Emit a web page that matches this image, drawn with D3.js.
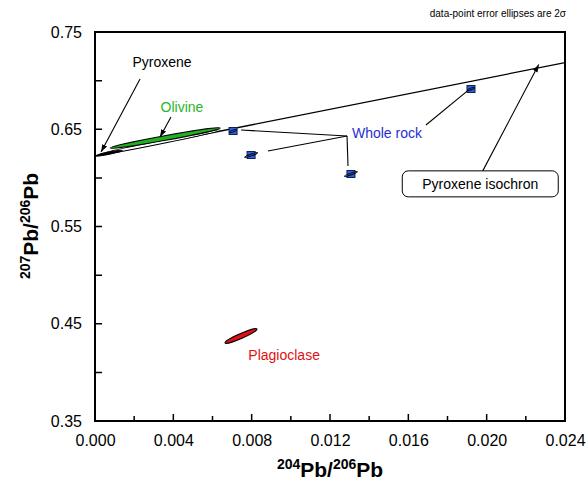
<!DOCTYPE html>
<html><head><meta charset="utf-8">
<script src="https://cdn.jsdelivr.net/npm/d3@7"></script>
<style>body{margin:0;background:#fff;} text{font-family:"Liberation Sans",Arial,sans-serif;}</style>
</head><body>
<svg id="c" width="586" height="485"></svg>
<script>
// ---------- data ----------
const xTicks = [0.000, 0.004, 0.008, 0.012, 0.016, 0.020, 0.024];
const xMinorTicks = [0.002, 0.006, 0.010, 0.014, 0.018, 0.022];
const yTicks = [0.35, 0.45, 0.55, 0.65, 0.75];
const yMinorTicks = [0.40, 0.50, 0.60, 0.70];

// whole-rock data points (204/206, 207/206) and 2σ error half-length in x
const wrX = [0.00705, 0.00797, 0.01307, 0.01920];
const wrY = [0.6482, 0.6235, 0.6040, 0.6914];
const wrErr = [0.00018, 0.00035, 0.00035, 0.00018];

// mineral error ellipses: long-axis end points
const olivineEnds = [[0.00077, 0.6307], [0.00640, 0.6513]];
const pyroxeneEnds = [[0.00020, 0.6238], [0.00640, 0.6492]];
const pyroxeneCoreEnds = [[0.00005, 0.6226], [0.00140, 0.6282]];
const plagioclaseEnds = [[0.00664, 0.4302], [0.00827, 0.4446]];

// pyroxene isochron: intercept and slope
const isoIntercept = 0.6225;
const isoSlope = 4.0;

// ---------- chart ----------
const svg = d3.select("#c");
const L = 95, R = 565, T = 32, B = 421;
const x = d3.scaleLinear().domain([0, 0.024]).range([L, R]);
const y = d3.scaleLinear().domain([0.35, 0.75]).range([B, T]);

const defs = svg.append("defs");
defs.append("marker").attr("id", "ah").attr("viewBox", "0 0 10 10")
  .attr("refX", 10).attr("refY", 5).attr("markerWidth", 7).attr("markerHeight", 7)
  .attr("orient", "auto-start-reverse")
  .append("path").attr("d", "M0,1.5 L10,5 L0,8.5 z").attr("fill", "#000");
defs.append("clipPath").attr("id", "plot").append("rect")
  .attr("x", L).attr("y", T).attr("width", R - L).attr("height", B - T);

// axes: labels via d3 axes
const fmtX = d3.format(".3f"), fmtY = d3.format(".2f");
const gx = svg.append("g").attr("transform", `translate(0,${B})`)
  .call(d3.axisBottom(x).tickValues(xTicks).tickSize(0).tickPadding(14).tickFormat(fmtX));
const gy = svg.append("g").attr("transform", `translate(${L},0)`)
  .call(d3.axisLeft(y).tickValues(yTicks).tickSize(0).tickPadding(13).tickFormat(fmtY));
[gx, gy].forEach(g => {
  g.select(".domain").remove();
  g.selectAll("text").attr("font-size", 16).attr("fill", "#000")
    .attr("font-family", "'Liberation Sans', Arial, sans-serif");
});

// isochron line
const plot = svg.append("g").attr("clip-path", "url(#plot)");
plot.append("line")
  .attr("x1", x(0)).attr("y1", y(isoIntercept))
  .attr("x2", x(0.024)).attr("y2", y(isoIntercept + isoSlope * 0.024))
  .attr("stroke", "#000").attr("stroke-width", 1.3);

function ellipse(ends, halfPx, fill, sw) {
  const [a, b] = ends;
  const x1 = x(a[0]), y1 = y(a[1]), x2 = x(b[0]), y2 = y(b[1]);
  const cx = (x1 + x2) / 2, cy = (y1 + y2) / 2;
  const rx = Math.hypot(x2 - x1, y2 - y1) / 2;
  const ang = Math.atan2(y2 - y1, x2 - x1) * 180 / Math.PI;
  plot.append("ellipse").attr("cx", 0).attr("cy", 0).attr("rx", rx).attr("ry", halfPx)
    .attr("transform", `translate(${cx},${cy}) rotate(${ang})`)
    .attr("fill", fill).attr("stroke", "#000").attr("stroke-width", sw);
}
ellipse(pyroxeneEnds, 1.6, "#fff", 1);
ellipse(olivineEnds, 2.4, "#22b022", 1);
ellipse(pyroxeneCoreEnds, 1.1, "#000", 1);
ellipse(plagioclaseEnds, 2.4, "#e01010", 1);

// whole rock points
const wr = d3.range(wrX.length).map(i => ({x: wrX[i], y: wrY[i], e: wrErr[i]}));
const wg = plot.selectAll("g.wr").data(wr).join("g").attr("class", "wr")
  .attr("transform", d => `translate(${x(d.x)},${y(d.y)})`);
wg.append("rect").attr("x", -4).attr("y", -3.5).attr("width", 8).attr("height", 7)
  .attr("fill", "#2f5fd8").attr("stroke", "#0c1f5c").attr("stroke-width", 1);
wg.append("ellipse").attr("rx", d => x(d.e) - x(0)).attr("ry", 0.9)
  .attr("transform", "rotate(-20)")
  .attr("fill", "none").attr("stroke", "#000").attr("stroke-width", 1);

// frame
svg.append("rect").attr("x", L).attr("y", T).attr("width", R - L).attr("height", B - T)
  .attr("fill", "none").attr("stroke", "#000").attr("stroke-width", 2);

// inward ticks (drawn as a single path)
let tp = "";
xTicks.slice(1, -1).forEach(d => { tp += `M${x(d)},${B}V${B - 7}`; });
xMinorTicks.forEach(d => { tp += `M${x(d)},${B}V${B - 5}`; });
yTicks.slice(1, -1).concat(yMinorTicks).forEach(d => { tp += `M${L},${y(d)}H${L + 7}`; });
svg.append("path").attr("d", tp).attr("fill", "none")
  .attr("stroke", "#000").attr("stroke-width", 1.5);

// ---------- annotations ----------
const ann = svg.append("g");
function arrow(p, q) {
  ann.append("line").attr("x1", x(p[0])).attr("y1", y(p[1])).attr("x2", x(q[0])).attr("y2", y(q[1]))
    .attr("stroke", "#000").attr("stroke-width", 1.1).attr("marker-end", "url(#ah)");
}
function seg(p, q) {
  ann.append("line").attr("x1", x(p[0])).attr("y1", y(p[1])).attr("x2", x(q[0])).attr("y2", y(q[1]))
    .attr("stroke", "#000").attr("stroke-width", 1.1);
}
function label(t, pos, color, anchor) {
  ann.append("text").attr("x", x(pos[0])).attr("y", y(pos[1])).attr("dy", "0.35em")
    .attr("text-anchor", anchor).attr("font-size", 14).attr("fill", color).text(t);
}
label("Pyroxene", [0.00342, 0.7191], "#000", "middle");
arrow([0.00230, 0.7017], [0.00031, 0.6266]);
label("Olivine", [0.00444, 0.6729], "#2ab52a", "middle");
arrow([0.00388, 0.6626], [0.00332, 0.6420]);
label("Whole rock", [0.01312, 0.6461], "#1f2fd0", "start");
const junction = [0.01287, 0.6431];
seg(junction, [0.00746, 0.6492]);
seg(junction, [0.00883, 0.6276]);
seg(junction, [0.01292, 0.6122]);
seg([0.01690, 0.6544], [0.01905, 0.6900]);
label("Plagioclase", [0.00783, 0.4178], "#e01010", "start");

// isochron label box
const bx = x(0.01569), by = y(0.6072), bw = 156, bh = 26;
ann.append("rect").attr("x", bx).attr("y", by).attr("width", bw).attr("height", bh)
  .attr("rx", 6).attr("fill", "#fff").attr("stroke", "#000").attr("stroke-width", 1);
ann.append("text").attr("x", bx + bw / 2).attr("y", by + bh / 2).attr("dy", "0.35em")
  .attr("text-anchor", "middle").attr("font-size", 14).attr("fill", "#000").text("Pyroxene isochron");
arrow([0.01980, 0.6072], [0.02266, 0.7166]);

// note
svg.append("text").attr("x", 566).attr("y", 17).attr("text-anchor", "end")
  .attr("font-size", 10).attr("fill", "#000").text("data-point error ellipses are 2σ");

// axis titles
const xt = svg.append("text").attr("x", 330).attr("y", 477).attr("text-anchor", "middle")
  .attr("font-weight", "bold").attr("font-size", 21);
xt.append("tspan").attr("font-size", 14).attr("dy", -8).text("204");
xt.append("tspan").attr("dy", 8).text("Pb/");
xt.append("tspan").attr("font-size", 14).attr("dy", -8).text("206");
xt.append("tspan").attr("dy", 8).text("Pb");

const yt = svg.append("text").attr("transform", "translate(38,226) rotate(-90)")
  .attr("text-anchor", "middle").attr("font-weight", "bold").attr("font-size", 21);
yt.append("tspan").attr("font-size", 14).attr("dy", -8).text("207");
yt.append("tspan").attr("dy", 8).text("Pb/");
yt.append("tspan").attr("font-size", 14).attr("dy", -8).text("206");
yt.append("tspan").attr("dy", 8).text("Pb");
</script>
</body></html>
